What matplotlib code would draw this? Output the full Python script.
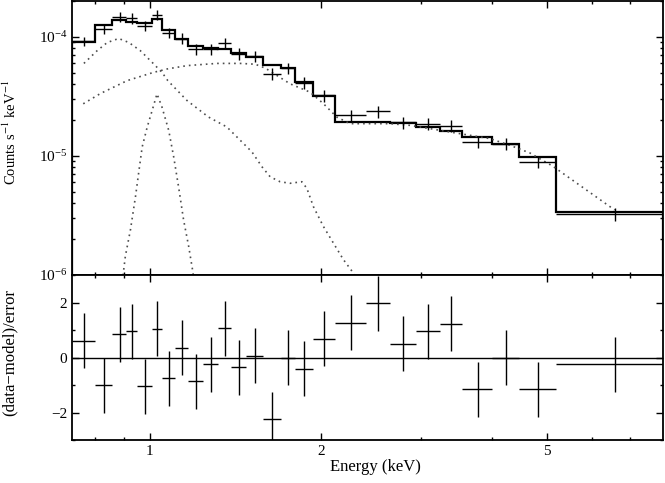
import matplotlib
matplotlib.use("Agg")
import matplotlib.pyplot as plt
from matplotlib.ticker import FixedLocator, NullFormatter, FixedFormatter, LogLocator, MultipleLocator

plt.rcParams['font.family'] = ['Liberation Serif', 'DejaVu Serif']
plt.rcParams['mathtext.fontset'] = 'stix'

# channel bin edges (keV)
bin_edges = [0.73, 0.80, 0.86, 0.91, 0.95, 1.01, 1.05, 1.11, 1.17, 1.24, 1.32,
             1.39, 1.48, 1.58, 1.70, 1.80, 1.94, 2.12, 2.40, 2.65, 2.94, 3.24,
             3.55, 4.00, 4.47, 5.18, 8.00]

# values in units of 1e-4 counts/s/keV
data_rate = [0.917, 1.160, 1.477, 1.433, 1.235, 1.526, 1.086, 0.968, 0.789, 0.786,
             0.879, 0.721, 0.684, 0.488, 0.544, 0.413, 0.3216, 0.2189, 0.2364, 0.1913,
             0.1859, 0.1789, 0.1310, 0.1265, 0.0887, 0.0326]
data_err = [0.085, 0.11, 0.14, 0.14, 0.12, 0.15, 0.11, 0.10, 0.085, 0.085,
            0.09, 0.08, 0.075, 0.055, 0.06, 0.045, 0.036, 0.025, 0.027, 0.022,
            0.021, 0.020, 0.015, 0.015, 0.010, 0.004]
model_rate = [0.900, 1.252, 1.373, 1.342, 1.316, 1.405, 1.137, 0.957, 0.841, 0.802,
              0.789, 0.731, 0.681, 0.580, 0.544, 0.421, 0.3155, 0.1924, 0.1924, 0.1877,
              0.1748, 0.1625, 0.1442, 0.1253, 0.0976, 0.0335]

residuals = [0.61, -1.0, 0.84, 0.95, -1.05, 1.04, -0.75, 0.35, -0.86, -0.24,
             1.07, -0.36, 0.07, -2.24, 0.0, -0.41, 0.68, 1.27, 1.98, 0.5,
             0.96, 1.22, -1.16, -0.01, -1.15, -0.24]

# model components (energy keV, counts/s/keV)
thermal_e = [0.766, 0.808, 0.842, 0.882, 0.919, 0.963, 1.010, 1.051, 1.076, 1.163,
             1.269, 1.367, 1.443, 1.513, 1.576, 1.629, 1.696, 1.766, 1.852, 1.890,
             1.941, 2.021, 2.104, 2.191, 2.282, 2.40]
thermal_v = [5.98e-5, 7.64e-5, 8.96e-5, 9.68e-5, 8.96e-5, 7.64e-5, 6.10e-5, 5.03e-5, 4.29e-5, 2.92e-5,
             2.12e-5, 1.75e-5, 1.353e-5, 1.081e-5, 8.10e-6, 6.68e-6, 6.07e-6, 5.89e-6, 6.07e-6, 5.35e-6,
             3.75e-6, 2.56e-6, 1.86e-6, 1.35e-6, 1.04e-6, 7.0e-7]

powerlaw_e = [0.764, 0.819, 0.913, 1.016, 1.073, 1.163, 1.313, 1.443, 1.533, 1.597,
              1.676, 1.766, 1.915, 2.019, 2.134, 2.251, 2.647, 2.870, 3.112, 3.374,
              3.658, 3.966, 4.300, 4.663, 5.117, 6.575]
powerlaw_v = [2.74e-5, 3.34e-5, 4.29e-5, 5.03e-5, 5.37e-5, 5.73e-5, 5.98e-5, 5.98e-5, 5.89e-5, 5.46e-5,
              4.72e-5, 4.03e-5, 3.43e-5, 2.76e-5, 2.12e-5, 1.866e-5, 1.866e-5, 1.806e-5, 1.695e-5, 1.588e-5,
              1.490e-5, 1.398e-5, 1.230e-5, 1.060e-5, 8.21e-6, 3.52e-6]

line_e = [0.893, 0.898, 0.906, 0.925, 0.944, 0.956, 0.970, 0.990, 1.010, 1.030,
          1.051, 1.080, 1.102, 1.124, 1.147, 1.171, 1.192, 1.198]
line_v = [8e-7, 1.01e-6, 1.435e-6, 2.40e-6, 4.55e-6, 7.14e-6, 1.19e-5, 1.748e-5, 2.41e-5, 3.32e-5,
          2.57e-5, 1.64e-5, 9.82e-6, 5.51e-6, 2.91e-6, 1.74e-6, 1.04e-6, 8e-7]


def main():
    lo = bin_edges[:-1]
    hi = bin_edges[1:]
    centers = [(a + b) / 2 for a, b in zip(lo, hi)]
    xerr = [[c - a for c, a in zip(centers, lo)], [b - c for c, b in zip(centers, hi)]]
    scale = 1e-4

    fig = plt.figure(figsize=(6.65, 4.83), dpi=100)
    ax1 = fig.add_axes([0.1083, 0.4306, 0.8887, 0.5674])
    ax2 = fig.add_axes([0.1083, 0.0890, 0.8887, 0.3416], sharex=ax1)

    dot = (0, (1, 2.4))
    for e, v in [(thermal_e, thermal_v), (powerlaw_e, powerlaw_v), (line_e, line_v)]:
        ax1.plot(e, v, linestyle=dot, color='0.3', lw=1.2)

    ax1.stairs([m * scale for m in model_rate], bin_edges, color='black', lw=1.6)
    ax1.errorbar(centers, [d * scale for d in data_rate], xerr=xerr,
                 yerr=[e * scale for e in data_err], fmt='none', ecolor='black', elinewidth=1.0)

    ax1.set_xscale('log')
    ax1.set_yscale('log')
    ax1.set_xlim(0.73, 8.0)
    ax1.set_ylim(1e-6, 2e-4)
    ax1.yaxis.set_major_locator(LogLocator(base=10, numticks=10))
    ax1.yaxis.set_minor_locator(LogLocator(base=10, subs=range(2, 10), numticks=10))
    ax1.yaxis.set_minor_formatter(NullFormatter())
    ax1.set_ylabel('Counts s$^{-1}$ keV$^{-1}$', fontsize=10.5)
    ax1.yaxis.set_label_coords(-0.09, 0.52)
    plt.setp(ax1.get_xticklabels(), visible=False)

    ax2.errorbar(centers, residuals, xerr=xerr, yerr=1.0, fmt='none',
                 ecolor='black', elinewidth=1.0)
    ax2.axhline(0, color='black', lw=1.0)
    ax2.set_ylim(-3, 3)
    ax2.yaxis.set_major_locator(MultipleLocator(2))
    ax2.yaxis.set_minor_locator(MultipleLocator(1))
    ax2.set_ylabel('(data\u2212model)/error', fontsize=12)
    ax2.yaxis.set_label_coords(-0.092, 0.53)
    ax2.set_xlabel('Energy (keV)', fontsize=12)
    ax2.xaxis.set_label_coords(0.514, -0.115)

    ax2.xaxis.set_major_locator(FixedLocator([1, 2, 5]))
    ax2.xaxis.set_major_formatter(FixedFormatter(['1', '2', '5']))
    ax2.xaxis.set_minor_locator(FixedLocator([0.8, 0.9, 3, 4, 6, 7]))
    ax2.xaxis.set_minor_formatter(NullFormatter())

    for ax in (ax1, ax2):
        for sp in ax.spines.values():
            sp.set_linewidth(1.3)
        ax.tick_params(which='both', direction='in', top=True, right=True,
                       labelsize=11, width=1.0)
        ax.tick_params(which='major', length=5)
        ax.tick_params(which='minor', length=2.5)

    fig.savefig('out.png', dpi=100)


if __name__ == "__main__":
    main()
